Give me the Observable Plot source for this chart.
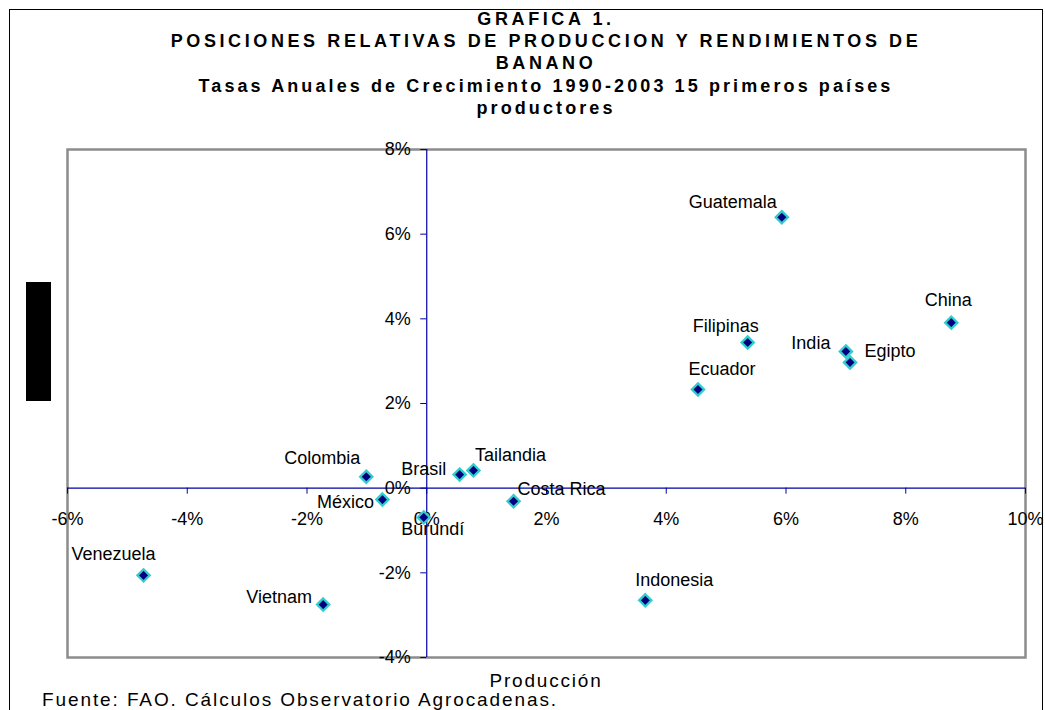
<!DOCTYPE html>
<html><head><meta charset="utf-8">
<script src="https://cdn.jsdelivr.net/npm/d3@7"></script>
<script src="https://cdn.jsdelivr.net/npm/@observablehq/plot@0.6"></script>
<style>
html,body{margin:0;padding:0;background:#fff;}
#wrap{position:relative;width:1045px;height:710px;overflow:hidden;font-family:"Liberation Sans",Arial,sans-serif;}
#wrap svg{position:absolute;left:0;top:0;}
.t{position:absolute;left:0;width:1092px;text-align:center;font-weight:bold;font-size:18px;line-height:20px;letter-spacing:3.6px;color:#000;white-space:nowrap;}
#border{position:absolute;left:9px;top:9px;width:1034px;height:720px;border:1.5px solid #000;box-sizing:border-box;}
#blk{position:absolute;left:26px;top:282px;width:25px;height:119px;background:#000;}
#xt{position:absolute;left:0;width:1092px;top:671px;line-height:20px;text-align:center;font-size:19px;letter-spacing:1.8px;}
#cap{position:absolute;left:42px;top:690px;line-height:20px;font-size:19px;letter-spacing:1.9px;white-space:nowrap;}
</style></head>
<body><div id="wrap">
<div id="border"></div>
<div id="blk"></div>
<div class="t" style="top:9px">GRAFICA 1.</div>
<div class="t" style="top:31px">POSICIONES RELATIVAS DE PRODUCCION Y RENDIMIENTOS DE</div>
<div class="t" style="top:53px">BANANO</div>
<div class="t" style="top:76px;letter-spacing:3.1px">Tasas Anuales de Crecimiento 1990-2003 15 primeros países</div>
<div class="t" style="top:98px;letter-spacing:3.1px">productores</div>
<div id="xt">Producción</div>
<div id="cap">Fuente: FAO. Cálculos Observatorio Agrocadenas.</div>
</div>
<script>
const paises = ["Guatemala","China","Filipinas","India","Egipto","Ecuador","Colombia","Brasil","Tailandia","México","Costa Rica","Burundí","Venezuela","Vietnam","Indonesia"];
const produccion = [5.93, 8.76, 5.36, 7.00, 7.07, 4.53, -1.01, 0.55, 0.78, -0.74, 1.45, -0.05, -4.73, -1.73, 3.65];
const rendimiento = [6.40, 3.91, 3.44, 3.23, 2.97, 2.33, 0.27, 0.32, 0.42, -0.27, -0.31, -0.69, -2.06, -2.75, -2.65];
const xTicks = [-6, -4, -2, 0, 2, 4, 6, 8, 10];
const yTicks = [-4, -2, 0, 2, 4, 6, 8];

// label placement (pixels), layout only
const labelOffset = {
  "Guatemala":[-49,-15], "China":[-3,-22], "Filipinas":[-22,-16], "India":[-35,-8],
  "Egipto":[40,-11], "Ecuador":[24,-20], "Colombia":[-44,-19], "Brasil":[-36,-5],
  "Tailandia":[37,-15], "México":[-37,3], "Costa Rica":[48,-12], "Burundí":[9,12],
  "Venezuela":[-30,-21], "Vietnam":[-44,-7], "Indonesia":[29,-20]
};

const data = paises.map((p, i) => ({pais: p, x: produccion[i], y: rendimiento[i]}));
const axisColor = "#0000a0";

const textMarks = data.map(d => Plot.text([d], {
  x: "x", y: "y", text: "pais", dx: labelOffset[d.pais][0], dy: labelOffset[d.pais][1],
  fontSize: 18, fill: "#000", textAnchor: "middle", lineAnchor: "middle",
  letterSpacing: "1.1px"
}));

const plot = Plot.plot({
  width: 1045, height: 710,
  marginLeft: 67, marginRight: 20, marginTop: 149, marginBottom: 53,
  style: {fontFamily: "Liberation Sans, Arial, sans-serif", background: "transparent"},
  x: {domain: [-6, 10], axis: null},
  y: {domain: [-4, 8], axis: null},
  marks: [
    Plot.frame({stroke: "#8c8c8c", strokeWidth: 2.5}),
    Plot.ruleY([0], {stroke: axisColor, strokeWidth: 1.2}),
    Plot.ruleX([0], {stroke: axisColor, strokeWidth: 1.2}),
    Plot.ruleX(xTicks, {x: d => d, y1: 0, y2: 0, insetTop: 0, insetBottom: -6, stroke: axisColor}),
    Plot.ruleY(yTicks, {y: d => d, x1: 0, x2: 0, insetLeft: -6, insetRight: 0, stroke: axisColor}),
    Plot.text(xTicks, {x: d => d, y: 0, text: d => d + "%", dy: 31, fontSize: 18, textAnchor: "middle", lineAnchor: "middle", fill: "#000", letterSpacing: "0.8px"}),
    Plot.text(yTicks, {x: 0, y: d => d, text: d => d + "%", dx: -16, fontSize: 18, textAnchor: "end", lineAnchor: "middle", fill: "#000", letterSpacing: "0.8px"}),
    Plot.dot(data, {x: "x", y: "y", symbol: "diamond2", r: 5.5, fill: "#000080", stroke: "#33cccc", strokeWidth: 2.3}),
    ...textMarks
  ]
});
document.getElementById("wrap").appendChild(plot);
</script>
</body></html>
